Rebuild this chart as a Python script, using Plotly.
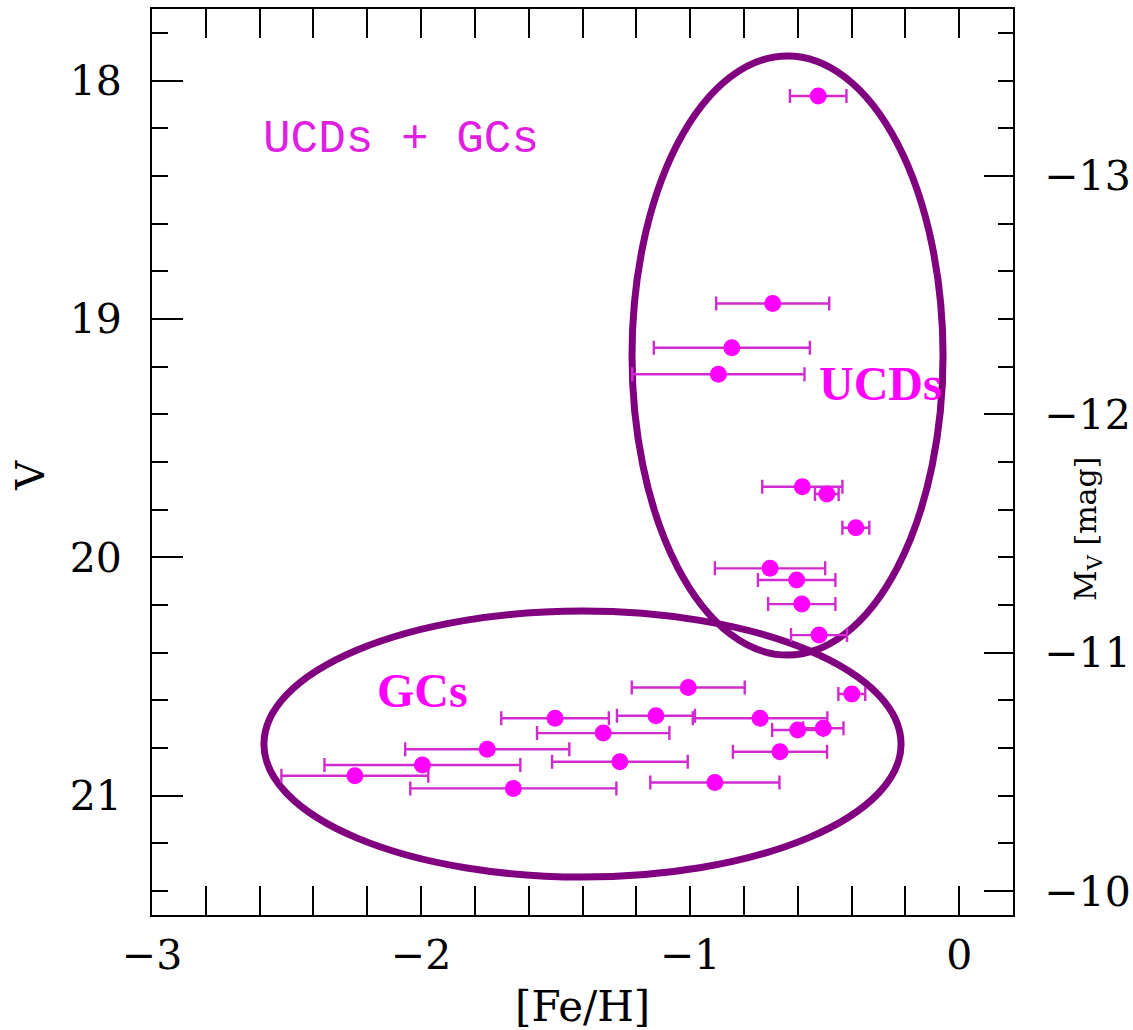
import plotly.graph_objects as go

# ---- data ----
ucd_feh = [-0.524, -0.693, -0.845, -0.895, -0.583, -0.492, -0.384, -0.703, -0.604, -0.585, -0.521]
ucd_v = [18.065, 18.935, 19.121, 19.232, 19.704, 19.734, 19.876, 20.046, 20.095, 20.196, 20.326]
ucd_err = [0.105, 0.21, 0.29, 0.32, 0.149, 0.044, 0.05, 0.205, 0.144, 0.125, 0.104]

gc_feh = [-1.007, -0.399, -1.502, -1.127, -0.740, -0.600, -0.505, -1.323, -1.754, -0.666,
          -1.261, -1.995, -2.246, -1.657, -0.908]
gc_v = [20.546, 20.573, 20.675, 20.664, 20.675, 20.724, 20.717, 20.737, 20.805, 20.815,
        20.857, 20.871, 20.916, 20.969, 20.944]
gc_err = [0.21, 0.05, 0.20, 0.145, 0.25, 0.095, 0.075, 0.246, 0.305, 0.175,
          0.252, 0.364, 0.273, 0.383, 0.24]

dist_mod = 31.4

# ellipse extents in data coordinates
ucd_ell = dict(x0=-1.216, x1=-0.060, y0=17.897, y1=20.410)
gc_ell = dict(x0=-2.584, x1=-0.216, y0=20.225, y1=21.341)

x_range = [-3.0, 0.2]
v_range = [21.5, 17.7]

feh = ucd_feh + gc_feh
vmag = ucd_v + gc_v
err = ucd_err + gc_err

MAG = "#ff00ff"
PURPLE = "#800080"
BARC = "#d02ad0"
TICKFONT = dict(family="DejaVu Serif", size=41, color="black")

fig = go.Figure()
fig.add_trace(go.Scatter(
    x=feh, y=vmag, mode="markers",
    marker=dict(color=MAG, size=17, line=dict(width=0)),
    error_x=dict(type="data", array=err, visible=True, color=BARC, thickness=2.4, width=7),
    showlegend=False, hoverinfo="skip"))
# invisible twin on absolute magnitude axis
fig.add_trace(go.Scatter(
    x=feh, y=[v - dist_mod for v in vmag], mode="markers", yaxis="y2",
    marker=dict(opacity=0), showlegend=False, hoverinfo="skip"))

for e in (ucd_ell, gc_ell):
    fig.add_shape(type="circle", xref="x", yref="y", **e,
                  line=dict(color=PURPLE, width=7), layer="below")

fig.update_layout(
    width=1133, height=1030, autosize=False,
    margin=dict(l=152, r=120, t=9, b=115, pad=0, autoexpand=False),
    paper_bgcolor="white", plot_bgcolor="white",
    xaxis=dict(range=x_range, dtick=1, tick0=0, ticks="inside", ticklen=29, tickwidth=2,
               tickcolor="black", showline=True, linecolor="black", linewidth=2,
               mirror="allticks", showgrid=False, zeroline=False, tickfont=TICKFONT,
               ticklabelstandoff=3, automargin=False,
               minor=dict(ticks="inside", ticklen=14, dtick=0.2, tickwidth=2,
                          tickcolor="black", showgrid=False)),
    yaxis=dict(range=v_range, dtick=1, tick0=0, ticks="inside", ticklen=31, tickwidth=2,
               tickcolor="black", showline=True, linecolor="black", linewidth=2,
               mirror=False, showgrid=False, zeroline=False, tickfont=TICKFONT,
               ticklabelstandoff=20, automargin=False,
               minor=dict(ticks="inside", ticklen=16, dtick=0.2, tickwidth=2,
                          tickcolor="black", showgrid=False)),
    yaxis2=dict(range=[v_range[0] - dist_mod, v_range[1] - dist_mod], overlaying="y",
                side="right", dtick=1, tick0=0, ticks="inside", ticklen=29, tickwidth=2,
                tickcolor="black", showline=True, linecolor="black", linewidth=2,
                showgrid=False, zeroline=False, tickfont=TICKFONT, ticklabelstandoff=21,
                automargin=False,
                minor=dict(ticks="inside", ticklen=15, dtick=0.2, tickwidth=2,
                           tickcolor="black", showgrid=False)),
)

ann = [
    dict(text="[Fe/H]", xref="paper", yref="paper", x=0.5, y=-0.101,
         font=dict(family="DejaVu Serif", size=42, color="black")),
    dict(text="V", xref="paper", yref="paper", x=-0.1417, y=0.486, textangle=-90,
         font=dict(family="DejaVu Serif", size=40, color="black")),
    dict(text="M<sub>V</sub> [mag]", xref="paper", yref="paper", x=1.0859, y=0.426,
         textangle=-90, font=dict(family="DejaVu Serif", size=30, color="black")),
    dict(text="UCDs + GCs", xref="x", yref="y", x=-2.075, y=18.25,
         font=dict(family="Liberation Mono", size=46, color="#e020e0")),
    dict(text="UCDs", xref="x", yref="y", x=-0.294, y=19.269,
         font=dict(family="Liberation Serif", size=48, color=MAG, weight="bold")),
    dict(text="GCs", xref="x", yref="y", x=-1.993, y=20.557,
         font=dict(family="Liberation Serif", size=48, color=MAG, weight="bold")),
]
for a in ann:
    fig.add_annotation(showarrow=False, xanchor="center", yanchor="middle", **a)

fig.write_html("out.html")
